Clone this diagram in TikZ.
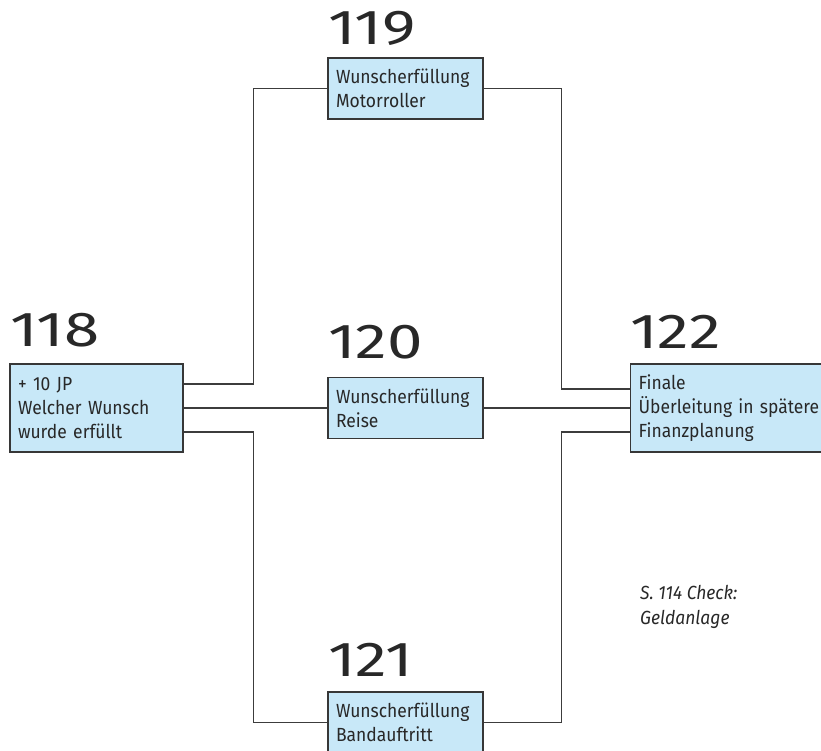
\documentclass[tikz,border=0pt]{standalone}
\usepackage{fontspec}
\setmainfont{Fira Sans}[FakeStretch=0.92]
\newfontfamily\numfont{Fira Sans}[FakeStretch=1.3]
\definecolor{boxfill}{RGB}{200,232,248}
\definecolor{boxline}{RGB}{55,55,55}
\definecolor{wirec}{RGB}{60,60,60}
\definecolor{txt}{RGB}{40,40,40}
\begin{document}
\begin{tikzpicture}[x=1pt,y=-1pt,
  box/.style={draw=boxline, fill=boxfill, line width=1.2pt, rectangle,
    inner xsep=8pt, inner ysep=0pt, align=left, text=txt,
    font=\fontsize{19}{24}\selectfont},
  num/.style={anchor=base west, inner sep=0pt, text=txt,
    font=\numfont\fontsize{49}{49}\selectfont},
  wire/.style={draw=wirec, line width=1.3pt}]
\useasboundingbox (0,0) rectangle (821,751);
% boxes
\node[box, minimum height=88pt, text width=157pt] (n118) at (96.5,408) {+ 10 JP\\Welcher Wunsch\\wurde erfüllt};
\node[box, minimum height=61pt, text width=139pt] (n119) at (405.5,88.5) {Wunscherfüllung\\Motorroller};
\node[box, minimum height=61pt, text width=139pt] (n120) at (405.5,408) {Wunscherfüllung\\Reise};
\node[box, minimum height=61pt, text width=139pt] (n121) at (405.5,722.5) {Wunscherfüllung\\Bandauftritt};
\node[box, anchor=west, minimum height=88pt, text width=190pt] (n122) at (630,408) {Finale\\Überleitung in spätere\\Finanzplanung};
% numbers
\node[num] (l118) at (10,346) {118};
\node[num] (l119) at (328,45) {119};
\node[num] (l120) at (328,358) {120};
\node[num] (l121) at (328,676) {121};
\node[num] (l122) at (630,348) {122};
% note
\node[anchor=west, inner sep=0pt, align=left, text=txt, font=\fontsize{19}{25}\itshape\selectfont] (note) at (640,607) {S. 114 Check:\\Geldanlage};
% wires
\draw[wire] ([yshift=24pt]n118.east) -- ++(70,0) |- (n119.west);
\draw[wire] (n119.east) -- ++(78,0) |- ([yshift=19pt]n122.west);
\draw[wire] (n118.east) -- (n120.west);
\draw[wire] (n120.east) -- (n122.west);
\draw[wire] ([yshift=-24pt]n118.east) -- ++(70,0) |- (n121.west);
\draw[wire] (n121.east) -- ++(78,0) |- ([yshift=-24pt]n122.west);
\end{tikzpicture}
\end{document}
